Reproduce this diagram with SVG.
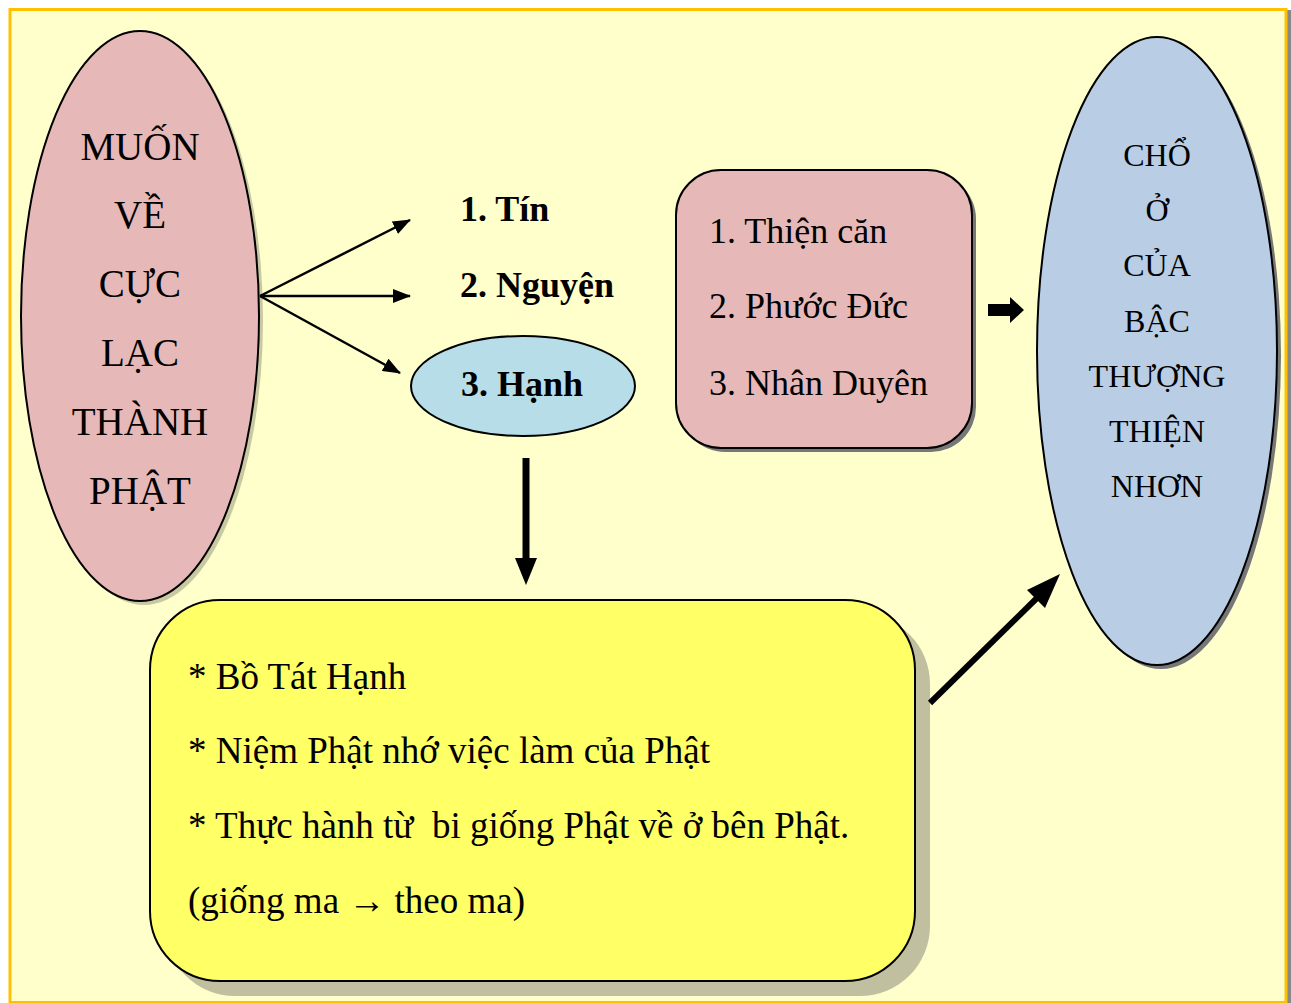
<svg xmlns="http://www.w3.org/2000/svg" width="1291" height="1003" viewBox="0 0 1291 1003">
<defs>
<marker id="ah" markerWidth="18" markerHeight="14" refX="17" refY="7" orient="auto" markerUnits="userSpaceOnUse" viewBox="0 0 18 14">
<path d="M0,0 L18,7 L0,14 Z" fill="#000"/>
</marker>
<style>
text{font-family:"Liberation Serif","Times New Roman",serif;fill:#000}
.big{font-size:39px;text-anchor:middle}
.bold{font-size:36px;font-weight:bold}
.pk{font-size:36px}
.rt{font-size:32px;text-anchor:middle}
.yl{font-size:37px}
.shape{stroke:#000;stroke-width:2}
.conn{stroke:#000;stroke-width:2.5;fill:none}
</style>
</defs>
<rect x="0" y="0" width="1291" height="1003" fill="#fff"/>
<rect x="1286" y="10" width="5" height="993" fill="#888"/>
<rect x="10" y="9.5" width="1276" height="993" fill="#FFFFCC" stroke="#FFC000" stroke-width="3"/>

<g id="node-muon">
<ellipse cx="144" cy="320" rx="119" ry="285" fill="#B0B090" opacity="0.7"/>
<ellipse cx="140" cy="316" rx="119" ry="285" fill="#E6B8B7" class="shape"/>
<text class="big" x="140" y="160">MUỐN</text>
<text class="big" x="140" y="228">VỀ</text>
<text class="big" x="140" y="297">CỰC</text>
<text class="big" x="140" y="366">LẠC</text>
<text class="big" x="140" y="435">THÀNH</text>
<text class="big" x="140" y="504">PHẬT</text>
</g>

<g id="node-tin"><text class="bold" x="460" y="221">1. Tín</text></g>
<g id="node-nguyen"><text class="bold" x="460" y="297">2. Nguyện</text></g>
<g id="node-hanh">
<ellipse cx="523" cy="386" rx="112" ry="50" fill="#B7DEE8" class="shape"/>
<text class="bold" x="522" y="396" text-anchor="middle">3. Hạnh</text>
</g>

<g id="node-thien">
<rect x="680" y="174" width="296" height="278" rx="45" fill="#777"/>
<rect x="676" y="170" width="296" height="278" rx="45" fill="#E6B8B7" class="shape"/>
<text class="pk" x="709" y="243">1. Thiện căn</text>
<text class="pk" x="709" y="318">2. Phước Đức</text>
<text class="pk" x="709" y="395">3. Nhân Duyên</text>
</g>

<g id="node-cho">
<ellipse cx="1161" cy="355" rx="120" ry="314" fill="#777"/>
<ellipse cx="1157" cy="351" rx="120" ry="314" fill="#B9CDE5" class="shape"/>
<text class="rt" x="1157" y="166">CHỔ</text>
<text class="rt" x="1157" y="221">Ở</text>
<text class="rt" x="1157" y="276">CỦA</text>
<text class="rt" x="1157" y="332">BẬC</text>
<text class="rt" x="1157" y="387">THƯỢNG</text>
<text class="rt" x="1157" y="442">THIỆN</text>
<text class="rt" x="1157" y="497">NHƠN</text>
</g>

<g id="node-botat">
<rect x="165" y="614" width="765" height="382" rx="70" fill="#C0C0A0"/>
<rect x="150" y="600" width="765" height="381" rx="70" fill="#FFFF66" class="shape"/>
<text class="yl" x="188" y="689">* Bồ Tát Hạnh</text>
<text class="yl" x="188" y="763">* Niệm Phật nhớ việc làm của Phật</text>
<text class="yl" x="188" y="838" xml:space="preserve">* Thực hành từ  bi giống Phật về ở bên Phật.</text>
<text class="yl" x="188" y="913">(giống ma → theo ma)</text>
</g>

<g id="connectors">
<line class="conn" x1="260" y1="296" x2="410" y2="220" marker-end="url(#ah)"/>
<line class="conn" x1="260" y1="296" x2="410" y2="296" marker-end="url(#ah)"/>
<line class="conn" x1="260" y1="296" x2="400" y2="373" marker-end="url(#ah)"/>
<line x1="526" y1="458" x2="526" y2="560" stroke="#000" stroke-width="7"/>
<path d="M515,558 L537,558 L526,585 Z" fill="#000"/>
<path d="M988,304 L1010,304 L1010,297 L1024,310 L1010,323 L1010,316 L988,316 Z" fill="#000"/>
<line x1="930" y1="703" x2="1038" y2="597" stroke="#000" stroke-width="6"/>
<path d="M1060,574 L1045,608 L1027,590 Z" fill="#000"/>
</g>
</svg>
